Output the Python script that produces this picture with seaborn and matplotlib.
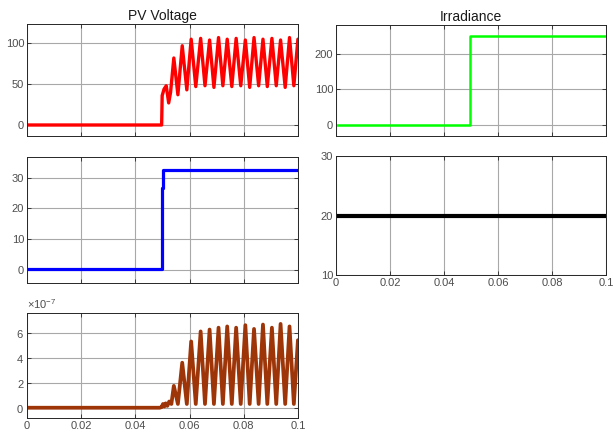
import numpy as np
import pandas as pd
import seaborn as sns
import matplotlib.pyplot as plt
from matplotlib.ticker import ScalarFormatter

# values (time in s)
pv_t = [0, 0.0497, 0.0499, 0.0506, 0.0514, 0.0523, 0.0530, 0.0542, 0.0557, 0.0573,
        0.0590, 0.0606, 0.0623, 0.0641, 0.0657, 0.0674, 0.0690, 0.0707, 0.0723, 0.0739,
        0.0756, 0.0772, 0.0789, 0.0806, 0.0822, 0.0838, 0.0855, 0.0871, 0.0887, 0.0904,
        0.0920, 0.0936, 0.0953, 0.0969, 0.0985, 0.1000]
pv_v = [0, 0, 36, 44, 48, 27, 40, 82, 37, 97,
        43, 105, 47, 106, 48, 104, 46, 107, 48, 105,
        47, 106, 48, 104, 46, 107, 48, 105, 47, 106,
        48, 104, 46, 107, 48, 105]

pw_t = [0, 0.0490, 0.0497, 0.0502, 0.0507, 0.0512, 0.0518, 0.0525, 0.0533, 0.0542,
        0.0557, 0.0573, 0.0590, 0.0606, 0.0623, 0.0641, 0.0657, 0.0674, 0.0690, 0.0707,
        0.0723, 0.0739, 0.0756, 0.0772, 0.0789, 0.0806, 0.0822, 0.0838, 0.0855, 0.0871,
        0.0887, 0.0904, 0.0920, 0.0936, 0.0953, 0.0969, 0.0985, 0.1000]
pw_v_e7 = [0, 0, 0.05, 0.3, 0.1, 0.35, 0.15, 0.5, 0.3, 1.75,
           0.3, 3.6, 0.3, 5.3, 0.3, 6.1, 0.3, 6.25, 0.3, 6.4,
           0.3, 6.5, 0.3, 6.4, 0.3, 6.6, 0.3, 6.3, 0.3, 6.65,
           0.3, 6.4, 0.3, 6.7, 0.3, 6.5, 0.3, 5.4]

cur_t = [0, 0.0497, 0.0497, 0.0502, 0.0502, 0.1]
cur_v = [0.2, 0.2, 26.5, 26.5, 32.5, 32.5]

irr_t = [0, 0.0496, 0.0496, 0.0498, 0.0498, 0.1]
irr_v = [0, 0, 100, 100, 250, 250]

temp_t = [0, 0.1]
temp_v = [20, 20]

xticks = [0, 0.02, 0.04, 0.06, 0.08, 0.1]
xlabels = ['0', '0.02', '0.04', '0.06', '0.08', '0.1']

sns.set_style('whitegrid', {'axes.edgecolor': '#262626', 'grid.color': '#a8a8a8',
                            'xtick.direction': 'in', 'ytick.direction': 'in'})
plt.rcParams['font.family'] = ['Liberation Sans', 'DejaVu Sans']
plt.rcParams['mathtext.fontset'] = 'custom'
plt.rcParams['mathtext.rm'] = 'Liberation Sans'
plt.rcParams['mathtext.it'] = 'Liberation Sans:italic'

fig = plt.figure(figsize=(6.13, 4.36), dpi=100)


def panel(rect, t, v, color, lw, ylim, yticks, show_x=False, title=None):
    ax = fig.add_axes(rect)
    sns.lineplot(x=t, y=v, ax=ax, color=color, lw=lw, estimator=None, sort=False)
    ax.set_xlim(0, 0.1)
    ax.set_ylim(*ylim)
    ax.set_xticks(xticks)
    ax.set_yticks(yticks)
    if show_x:
        ax.set_xticklabels(xlabels)
    else:
        ax.set_xticklabels([])
    ax.tick_params(labelsize=8, colors='#262626', labelcolor='#4d4d4d',
                   length=3, width=0.6, pad=2, top=True, right=True, bottom=True, left=True)
    ax.grid(True, color='#a8a8a8', lw=0.8)
    for s in ax.spines.values():
        s.set_linewidth(0.7)
        s.set_color('#262626')
    if title:
        ax.set_title(title, fontsize=10, pad=3, color='#1a1a1a')
    return ax


panel([0.044, 0.688, 0.442, 0.257], pv_t, pv_v, '#ff0000', 2.4,
      (-13.5, 123.6), [0, 50, 100], title='PV Voltage')
panel([0.548, 0.688, 0.4405, 0.2546], irr_t, irr_v, '#00ff00', 1.8,
      (-31, 280), [0, 100, 200], title='Irradiance')
panel([0.044, 0.351, 0.442, 0.289], cur_t, cur_v, '#0000ff', 2.3,
      (-4.2, 36.7), [0, 10, 20, 30])
panel([0.548, 0.369, 0.4405, 0.273], temp_t, temp_v, '#000000', 3.0,
      (10, 30), [10, 20, 30], show_x=True)

ax5 = panel([0.044, 0.0413, 0.442, 0.241], pw_t, np.array(pw_v_e7) * 1e-7, '#9e3508', 2.7,
            (-0.82e-7, 7.58e-7), [0, 2e-7, 4e-7, 6e-7], show_x=True)
fmt = ScalarFormatter(useMathText=True)
fmt.set_powerlimits((0, 0))
ax5.yaxis.set_major_formatter(fmt)
ax5.yaxis.get_offset_text().set_fontsize(8)
ax5.yaxis.get_offset_text().set_color('#4d4d4d')

fig.savefig('out.png', dpi=100)
